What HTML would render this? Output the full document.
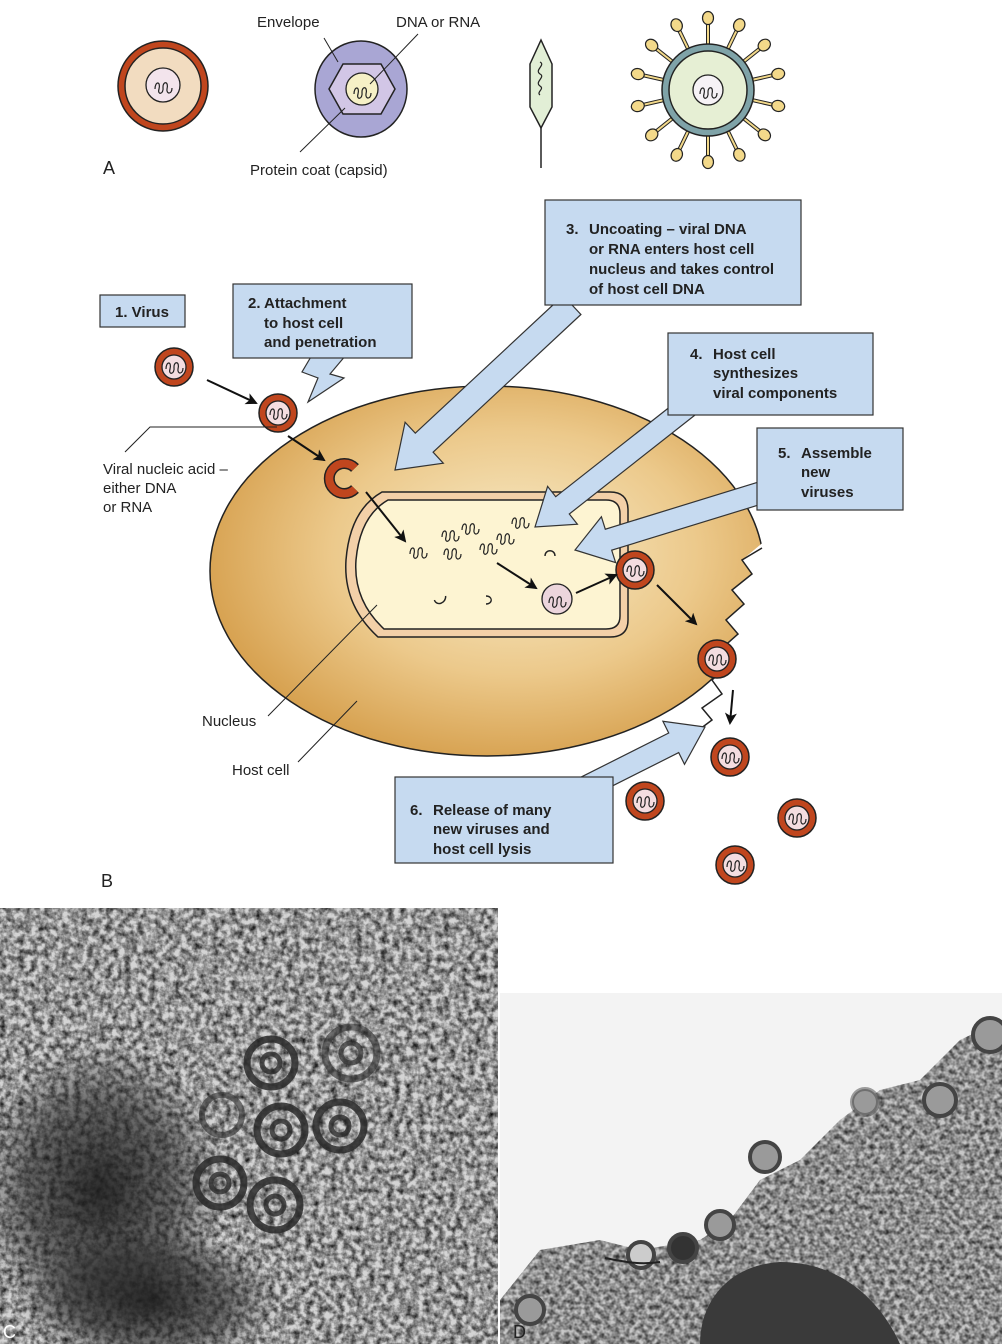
<!DOCTYPE html>
<html><head><meta charset="utf-8"><style>
html,body{margin:0;padding:0;background:#fff}
svg{display:block}
text{font-family:"Liberation Sans",Arial,sans-serif}
.lb{font-size:15px;fill:#222}
.bx{font-size:15px;font-weight:bold;fill:#222}
</style></head><body>
<svg width="1002" height="1344" viewBox="0 0 1002 1344" xmlns="http://www.w3.org/2000/svg">
<defs>
<radialGradient id="cell" cx="0.55" cy="0.45" r="0.6">
<stop offset="0" stop-color="#f8ecca"/><stop offset="0.55" stop-color="#ecc98b"/><stop offset="1" stop-color="#d49c48"/>
</radialGradient>
<radialGradient id="blob" cx="0.5" cy="0.5" r="0.5">
<stop offset="0" stop-color="#1a1a1a" stop-opacity="0.9"/><stop offset="0.6" stop-color="#2a2a2a" stop-opacity="0.6"/><stop offset="1" stop-color="#333" stop-opacity="0"/>
</radialGradient>
<filter id="noiseC" x="0" y="0" width="1" height="1">
<feTurbulence type="fractalNoise" baseFrequency="0.16" numOctaves="3" seed="3"/>
<feColorMatrix type="matrix" values="0 0 0 0 0  0 0 0 0 0  0 0 0 0 0  -1.5 0 0 0 1.05"/>
</filter>
<filter id="noiseD" x="0" y="0" width="1" height="1">
<feTurbulence type="fractalNoise" baseFrequency="0.2" numOctaves="2" seed="7"/>
<feColorMatrix type="matrix" values="0 0 0 0 0  0 0 0 0 0  0 0 0 0 0  -1.3 0 0 0 0.95"/>
</filter>
<g id="sq"><path d="M-8,2 c0,-8 6,-8 4,0 c-2,6 5,6 4,-2 c0,-6 6,-6 4,2 c-1,5 5,6 5,-1" fill="none" stroke="#222" stroke-width="1.2"/></g>
<g id="vir"><circle r="19" fill="#c0461e" stroke="#222" stroke-width="1.5"/><circle r="12" fill="#f4dde0" stroke="#222" stroke-width="1.3"/><use href="#sq"/></g>
<g id="spk"><line x1="0" y1="-46" x2="0" y2="-68" stroke="#222" stroke-width="4"/><line x1="0" y1="-46" x2="0" y2="-68" stroke="#f3d98a" stroke-width="2"/><ellipse cx="0" cy="-72" rx="5.5" ry="6.5" fill="#f3d98a" stroke="#222" stroke-width="1.2"/></g>
<marker id="ah" markerWidth="12" markerHeight="12" refX="10" refY="6" orient="auto" markerUnits="userSpaceOnUse"><path d="M0,0 L12,6 L0,12 L3,6 z" fill="#111"/></marker>
</defs>

<!-- ===== Part A ===== -->
<circle cx="163" cy="86" r="45" fill="#c0461e" stroke="#222" stroke-width="1.5"/>
<circle cx="163" cy="86" r="38" fill="#f2dcc0" stroke="#222" stroke-width="1.5"/>
<circle cx="163" cy="85" r="17" fill="#f3e4ec" stroke="#222" stroke-width="1.3"/>
<use href="#sq" transform="translate(163,87)"/>

<ellipse cx="361" cy="89" rx="46" ry="48" fill="#a9a6d4" stroke="#222" stroke-width="1.5"/>
<polygon points="329,89 343,64 381,64 395,89 381,114 343,114" fill="#d2c6e6" stroke="#222" stroke-width="1.5"/>
<circle cx="362" cy="89" r="16" fill="#f6f0c6" stroke="#222" stroke-width="1.3"/>
<use href="#sq" transform="translate(362,92)"/>
<line x1="324" y1="38" x2="338" y2="62" stroke="#222" stroke-width="1"/>
<line x1="418" y1="34" x2="370" y2="84" stroke="#222" stroke-width="1"/>
<line x1="300" y1="152" x2="345" y2="108" stroke="#222" stroke-width="1"/>
<text class="lb" x="257" y="27">Envelope</text>
<text class="lb" x="396" y="27">DNA or RNA</text>
<text class="lb" x="250" y="175">Protein coat (capsid)</text>
<text x="103" y="174" style="font-size:18px;fill:#222">A</text>

<polygon points="541,40 552,64 552,107 541,128 530,107 530,64" fill="#e2efd6" stroke="#222" stroke-width="1.5"/>
<path d="M540,62 c6,3 -6,8 0,12 c6,3 -6,8 0,12 c5,3 -4,6 0,9" fill="none" stroke="#222" stroke-width="1.2"/>
<line x1="541" y1="128" x2="541" y2="168" stroke="#222" stroke-width="1.5"/>

<g transform="translate(708,90)">
<use href="#spk" transform="rotate(0)"/><use href="#spk" transform="rotate(25.7)"/><use href="#spk" transform="rotate(51.4)"/><use href="#spk" transform="rotate(77.1)"/><use href="#spk" transform="rotate(102.8)"/><use href="#spk" transform="rotate(128.5)"/><use href="#spk" transform="rotate(154.2)"/><use href="#spk" transform="rotate(180)"/><use href="#spk" transform="rotate(205.7)"/><use href="#spk" transform="rotate(231.4)"/><use href="#spk" transform="rotate(257.1)"/><use href="#spk" transform="rotate(282.8)"/><use href="#spk" transform="rotate(308.5)"/><use href="#spk" transform="rotate(334.2)"/>
<circle r="46" fill="#7fa3a8" stroke="#222" stroke-width="1.5"/>
<circle r="39" fill="#e6efd4" stroke="#222" stroke-width="1.5"/>
<circle r="15" fill="#f6f2f6" stroke="#222" stroke-width="1.3"/>
<use href="#sq" transform="translate(0,2)"/>
</g>

<!-- ===== Part B ===== -->
<ellipse cx="487" cy="571" rx="277" ry="185" fill="url(#cell)" stroke="#222" stroke-width="1.5"/>
<polygon points="766,540 742,560 752,574 732,590 744,604 726,620 738,634 720,650 730,664 712,680 722,694 702,708 712,720 690,735 700,760 800,760 800,540" fill="#fff"/>
<polyline points="762,548 742,560 752,574 732,590 744,604 726,620 738,634 720,650 730,664 712,680 722,694 702,708 712,720 692,735" fill="none" stroke="#222" stroke-width="1.5"/>

<path d="M382,492 L610,492 Q628,492 628,510 L628,620 Q628,637 610,637 L378,637 Q343,605 346,560 Q350,510 382,492 Z" fill="#f3d0a8" stroke="#222" stroke-width="1.5"/>
<path d="M388,500 L606,500 Q620,500 620,514 L620,616 Q620,629 606,629 L384,629 Q353,600 356,560 Q360,516 388,500 Z" fill="#fdf4d2" stroke="#222" stroke-width="1.5"/>

<use href="#sq" transform="translate(418,552)"/>
<use href="#sq" transform="translate(452,553)"/>
<use href="#sq" transform="translate(450,535)"/>
<use href="#sq" transform="translate(470,528)"/>
<use href="#sq" transform="translate(488,548)"/>
<use href="#sq" transform="translate(505,538)"/>
<use href="#sq" transform="translate(520,522)"/>
<path d="M545,556 c0,-7 10,-7 10,0" fill="none" stroke="#222" stroke-width="1.4"/>
<path d="M434,598 c0,7 10,7 12,0" fill="none" stroke="#222" stroke-width="1.4" transform="rotate(-20 440 598)"/>
<path d="M486,596 c7,0 7,8 0,8" fill="none" stroke="#222" stroke-width="1.4"/>
<circle cx="557" cy="599" r="15" fill="#ecd5dc" stroke="#222" stroke-width="1.3"/>
<use href="#sq" transform="translate(557,601)"/>

<use href="#vir" transform="translate(174,367)"/>
<use href="#vir" transform="translate(278,413)"/>
<use href="#vir" transform="translate(635,570)"/>
<use href="#vir" transform="translate(717,659)"/>
<use href="#vir" transform="translate(730,757)"/>
<use href="#vir" transform="translate(645,801)"/>
<use href="#vir" transform="translate(797,818)"/>
<use href="#vir" transform="translate(735,865)"/>
<path d="M355,468 A15,15 0 1 0 355,489" fill="none" stroke="#222" stroke-width="11"/>
<path d="M355,468 A15,15 0 1 0 355,489" fill="none" stroke="#c0461e" stroke-width="8"/>

<g stroke="#111" stroke-width="2" fill="none" marker-end="url(#ah)">
<line x1="207" y1="380" x2="256" y2="403"/>
<line x1="288" y1="436" x2="324" y2="460"/>
<line x1="366" y1="492" x2="405" y2="541"/>
<line x1="497" y1="563" x2="536" y2="588"/>
<line x1="576" y1="593" x2="616" y2="575"/>
<line x1="657" y1="585" x2="696" y2="624"/>
<line x1="733" y1="690" x2="730" y2="723"/>
</g>

<polyline points="277,427 150,427 125,452" fill="none" stroke="#222" stroke-width="1"/>
<line x1="268" y1="716" x2="377" y2="605" stroke="#222" stroke-width="1"/>
<line x1="298" y1="762" x2="357" y2="701" stroke="#222" stroke-width="1"/>
<text class="lb" x="103" y="474">Viral nucleic acid –</text>
<text class="lb" x="103" y="493">either DNA</text>
<text class="lb" x="103" y="512">or RNA</text>
<text class="lb" x="202" y="726">Nucleus</text>
<text class="lb" x="232" y="775">Host cell</text>

<g fill="#c6daf0" stroke="#333" stroke-width="1.2">
<polygon points="580.9,314.5 433.1,452.2 443.3,463.2 395,470 405.1,422.2 415.3,433.2 563.1,295.5"/>
<polygon points="696.8,413.6 569.3,514 577.4,524.2 535,527 547.6,486.4 555.7,496.7 683.2,396.4"/>
<polygon points="773.2,500.5 611.7,550.2 615.6,562.6 575,550 601.4,516.8 605.3,529.2 766.8,479.5"/>
<polygon points="565,809.8 678.7,752.6 684.5,764.3 705,727 662.9,721.3 668.7,733 555,790.2"/>
<polygon points="312,355 302,372 318,378 308,402 344,378 330,374 346,355"/>
</g>
<g fill="#c6daf0" stroke="#333" stroke-width="1.2">
<rect x="100" y="295" width="85" height="32"/>
<rect x="233" y="284" width="179" height="74"/>
<rect x="545" y="200" width="256" height="105"/>
<rect x="668" y="333" width="205" height="82"/>
<rect x="757" y="428" width="146" height="82"/>
<rect x="395" y="777" width="218" height="86"/>
</g>
<text class="bx" x="115" y="317">1. Virus</text>
<text class="bx"><tspan x="248" y="308">2.</tspan><tspan x="264" y="308">Attachment</tspan><tspan x="264" y="328">to host cell</tspan><tspan x="264" y="347">and penetration</tspan></text>
<text class="bx"><tspan x="566" y="234">3.</tspan><tspan x="589" y="234">Uncoating – viral DNA</tspan><tspan x="589" y="254">or RNA enters host cell</tspan><tspan x="589" y="274">nucleus and takes control</tspan><tspan x="589" y="294">of host cell DNA</tspan></text>
<text class="bx"><tspan x="690" y="359">4.</tspan><tspan x="713" y="359">Host cell</tspan><tspan x="713" y="378">synthesizes</tspan><tspan x="713" y="398">viral components</tspan></text>
<text class="bx"><tspan x="778" y="458">5.</tspan><tspan x="801" y="458">Assemble</tspan><tspan x="801" y="477">new</tspan><tspan x="801" y="497">viruses</tspan></text>
<text class="bx"><tspan x="410" y="815">6.</tspan><tspan x="433" y="815">Release of many</tspan><tspan x="433" y="834">new viruses and</tspan><tspan x="433" y="854">host cell lysis</tspan></text>
<text x="101" y="887" style="font-size:18px;fill:#222">B</text>

<!-- ===== Part C micrograph ===== -->
<rect x="0" y="908" width="498" height="436" fill="#d4d4d4"/>
<rect x="0" y="908" width="498" height="436" filter="url(#noiseC)"/>
<ellipse cx="100" cy="1190" rx="125" ry="150" fill="url(#blob)"/>
<ellipse cx="150" cy="1300" rx="130" ry="70" fill="url(#blob)"/>
<g fill="none" stroke="#2a2a2a">
<circle cx="271" cy="1063" r="24" stroke-width="7" stroke-opacity="0.85"/><circle cx="271" cy="1063" r="9" stroke-width="5" stroke-opacity="0.8"/>
<circle cx="351" cy="1053" r="26" stroke-width="7" stroke-opacity="0.6"/><circle cx="351" cy="1053" r="10" stroke-width="5" stroke-opacity="0.7"/>
<circle cx="222" cy="1115" r="20" stroke-width="6" stroke-opacity="0.6"/>
<circle cx="281" cy="1130" r="24" stroke-width="7" stroke-opacity="0.85"/><circle cx="281" cy="1130" r="9" stroke-width="5" stroke-opacity="0.8"/>
<circle cx="340" cy="1126" r="24" stroke-width="7" stroke-opacity="0.85"/><circle cx="340" cy="1126" r="9" stroke-width="5" stroke-opacity="0.8"/>
<circle cx="220" cy="1183" r="24" stroke-width="7" stroke-opacity="0.85"/><circle cx="220" cy="1183" r="9" stroke-width="5" stroke-opacity="0.8"/>
<circle cx="275" cy="1205" r="25" stroke-width="7" stroke-opacity="0.85"/><circle cx="275" cy="1205" r="9" stroke-width="5" stroke-opacity="0.8"/>
</g>
<text x="3" y="1338" style="font-size:18px;fill:#fff">C</text>

<!-- ===== Part D micrograph ===== -->
<rect x="500" y="993" width="502" height="351" fill="#f3f3f3"/>
<clipPath id="dc"><path d="M500,1344 L500,1300 L540,1250 L600,1240 L640,1250 L700,1240 L730,1220 L760,1180 L800,1160 L840,1120 L880,1090 L920,1080 L960,1040 L1002,1020 L1002,1344 Z"/></clipPath>
<g clip-path="url(#dc)">
<rect x="500" y="993" width="502" height="351" fill="#c8c8c8"/>
<rect x="500" y="993" width="502" height="351" filter="url(#noiseD)"/>
</g>
<path d="M700,1344 C700,1300 730,1265 780,1262 C840,1262 880,1300 900,1344 Z" fill="#3a3a3a"/>
<g fill="#9a9a9a" stroke="#444" stroke-width="4">
<circle cx="990" cy="1035" r="17"/><circle cx="940" cy="1100" r="16"/><circle cx="865" cy="1102" r="13" stroke-opacity="0.5"/>
<circle cx="765" cy="1157" r="15"/><circle cx="720" cy="1225" r="14"/><circle cx="683" cy="1248" r="14" fill="#333"/><circle cx="641" cy="1255" r="13" fill="#ccc"/><circle cx="530" cy="1310" r="14"/>
</g>
<path d="M605,1258 C625,1262 640,1265 660,1262" fill="none" stroke="#222" stroke-width="2"/>
<text x="513" y="1338" style="font-size:18px;fill:#222">D</text>
</svg>
</body></html>
